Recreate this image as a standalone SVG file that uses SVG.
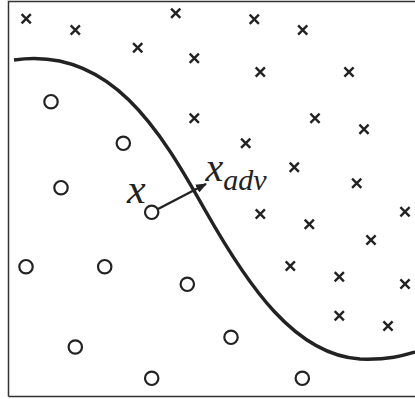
<svg xmlns="http://www.w3.org/2000/svg" width="415" height="399" viewBox="0 0 415 399">
<defs>
<style>
.cross{stroke:#222;stroke-width:2.4;fill:none}
.circ{stroke:#222;stroke-width:2.2;fill:#fff}
.lbl{font-family:"Liberation Serif","Times New Roman",serif;font-style:italic;fill:#222}
</style>
<g id="xm"><path class="cross" d="M-4.6,-4.6L4.6,4.6M-4.6,4.6L4.6,-4.6"/></g>
<marker id="ah" markerWidth="11" markerHeight="9" refX="10" refY="4.5" orient="auto" markerUnits="userSpaceOnUse"><path d="M0,0L11,4.5L0,9Z" fill="#222"/></marker>
</defs>
<rect width="415" height="399" fill="#fff"/>
<path d="M8.5,396.5H420M8.5,396.5V1.5H420" fill="none" stroke="#333" stroke-width="1.5"/>
<g id="crosses">
<use href="#xm" x="26.2" y="18.8"/><use href="#xm" x="75.3" y="30"/><use href="#xm" x="175.7" y="13.3"/>
<use href="#xm" x="137.7" y="47.7"/><use href="#xm" x="194.3" y="58.3"/><use href="#xm" x="194.3" y="118.3"/>
<use href="#xm" x="254.3" y="19.3"/><use href="#xm" x="302.7" y="30"/><use href="#xm" x="260.3" y="72"/>
<use href="#xm" x="349" y="72"/><use href="#xm" x="315" y="118.3"/><use href="#xm" x="364" y="129.3"/>
<use href="#xm" x="245.7" y="143.3"/><use href="#xm" x="294.3" y="167.3"/><use href="#xm" x="356.7" y="183.3"/>
<use href="#xm" x="260.3" y="214"/><use href="#xm" x="309.3" y="224.3"/><use href="#xm" x="405" y="211.7"/>
<use href="#xm" x="371" y="240"/><use href="#xm" x="290.3" y="266"/><use href="#xm" x="339.3" y="276.7"/>
<use href="#xm" x="405" y="284"/><use href="#xm" x="339.3" y="315.7"/><use href="#xm" x="388" y="326"/>
</g>
<g id="circles">
<circle class="circ" cx="51" cy="101.7" r="6.7"/><circle class="circ" cx="123.3" cy="143.3" r="6.7"/>
<circle class="circ" cx="61" cy="187.7" r="6.7"/><circle class="circ" cx="26" cy="266.7" r="6.7"/>
<circle class="circ" cx="104.7" cy="266.7" r="6.7"/><circle class="circ" cx="187.3" cy="284.3" r="6.7"/>
<circle class="circ" cx="75.3" cy="347" r="6.7"/><circle class="circ" cx="151.7" cy="378.3" r="6.7"/>
<circle class="circ" cx="231" cy="337.3" r="6.7"/><circle class="circ" cx="302.3" cy="378.3" r="6.7"/>
</g>
<g id="boundary">
<path d="M14,60C110,46 160,130 205,210C248,286 295,355 360,359C390,360 405,355 415,352" fill="none" stroke="#222" stroke-width="3.5"/>
</g>
<g id="connectors">
<line x1="158" y1="209" x2="206" y2="184" stroke="#222" stroke-width="2.5" marker-end="url(#ah)"/>
</g>
<g id="sample-x">
<circle class="circ" cx="151.7" cy="212.3" r="6.7"/>
<text class="lbl" x="127" y="202.5" font-size="42">x</text>
</g>
<g id="label-xadv">
<text class="lbl" x="205.5" y="180.5" font-size="40">x<tspan font-size="30" dy="9.5">adv</tspan></text>
</g>
</svg>
